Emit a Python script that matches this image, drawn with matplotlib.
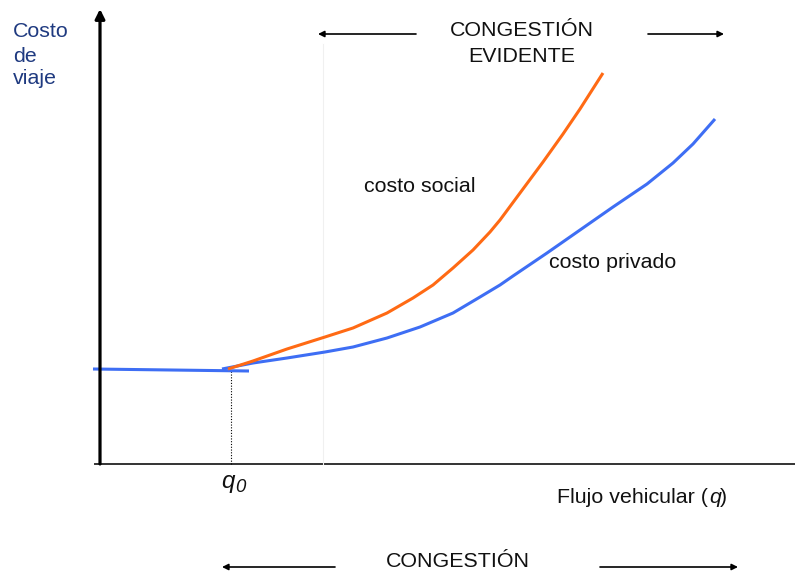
import matplotlib.pyplot as plt

plt.rcParams['font.family'] = ['Liberation Sans', 'DejaVu Sans']

# flow (q) and cost readings, origin at the axes corner
q_flat = [-7, 149]
c_flat = [95, 93]

q_privado = [122, 153, 187, 225, 253, 287, 320, 353, 380, 400, 413, 447, 480, 513, 547, 573, 593, 615]
c_privado = [95, 101, 106, 112, 117, 126, 137, 151, 167, 179, 188, 211, 234, 257, 280, 301, 320, 345]

q_social = [128, 153, 187, 225, 253, 287, 313, 333, 353, 373, 390, 400, 420, 443, 463, 480, 503]
c_social = [95, 103, 115, 127, 136, 151, 166, 179, 196, 214, 232, 244, 271, 302, 330, 355, 391]

q0 = 131
q_evidente = 223

naranja = '#ff6a14'
azul = '#3e6ef4'
fs = 15.4

fig = plt.figure(figsize=(7.95, 5.71), dpi=100)
ax = fig.add_axes([0, 0, 1, 1])
ax.set_xlim(-100, 695)
ax.set_ylim(-107, 464)
ax.axis('off')

# axes
ax.annotate('', xy=(0, 455), xytext=(0, 0),
            arrowprops=dict(arrowstyle='-|>', color='black', lw=2.3, mutation_scale=14, shrinkA=0, shrinkB=0))
ax.plot([-5, 695], [0, 0], color='#333333', lw=1.4)

# guide lines
ax.plot([q_evidente, q_evidente], [0, 420], color='#f0f0f0', lw=0.8)
ax.plot([q0, q0], [0, 94], color='black', lw=0.8, ls=(0, (1, 1.5)))

# curves
ax.plot(q_flat, c_flat, color=azul, lw=2.2, solid_capstyle='butt')
ax.plot(q_privado, c_privado, color=azul, lw=2.2, solid_capstyle='butt', solid_joinstyle='round')
ax.plot(q_social, c_social, color=naranja, lw=2.2, solid_capstyle='butt', solid_joinstyle='round')

# labels
ax.text(-87, 427, 'Costo', fontsize=fs, color='#1f3a80', va='baseline')
ax.text(-87, 402, 'de', fontsize=fs, color='#1f3a80', va='baseline')
ax.text(-87, 380, 'viaje', fontsize=fs, color='#1f3a80', va='baseline')

ax.text(422, 428, 'CONGESTIÓN', fontsize=fs, color='#111111', ha='center', va='baseline')
ax.text(422, 402, 'EVIDENTE', fontsize=fs, color='#111111', ha='center', va='baseline')
arrow_kw = dict(arrowstyle='-|>', color='black', lw=1.2, mutation_scale=9, shrinkA=0, shrinkB=0)
ax.annotate('', xy=(218, 430), xytext=(316, 430), arrowprops=arrow_kw)
ax.annotate('', xy=(624, 430), xytext=(548, 430), arrowprops=arrow_kw)

ax.text(264, 272, 'costo social', fontsize=fs, color='#111111', va='baseline')
ax.text(449, 196, 'costo privado', fontsize=fs, color='#111111', va='baseline')

ax.text(q0 + 4, -24, 'q', fontsize=fs + 2, color='#111111', ha='right', va='baseline', style='italic')
ax.text(q0 + 4, -28, '0', fontsize=fs - 2, color='#111111', ha='left', va='baseline', style='italic')
ax.text(457, -39, 'Flujo vehicular (', fontsize=fs, color='#111111', va='baseline')
ax.text(627, -39, ')', fontsize=fs, color='#111111', va='baseline', ha='right')
ax.text(609, -39, 'q', fontsize=fs, color='#111111', va='baseline', style='italic')

ax.text(358, -103, 'CONGESTIÓN', fontsize=fs, color='#111111', ha='center', va='baseline')
ax.annotate('', xy=(122, -103), xytext=(235, -103), arrowprops=arrow_kw)
ax.annotate('', xy=(638, -103), xytext=(500, -103), arrowprops=arrow_kw)

fig.savefig('out.png', dpi=100, facecolor='white')
